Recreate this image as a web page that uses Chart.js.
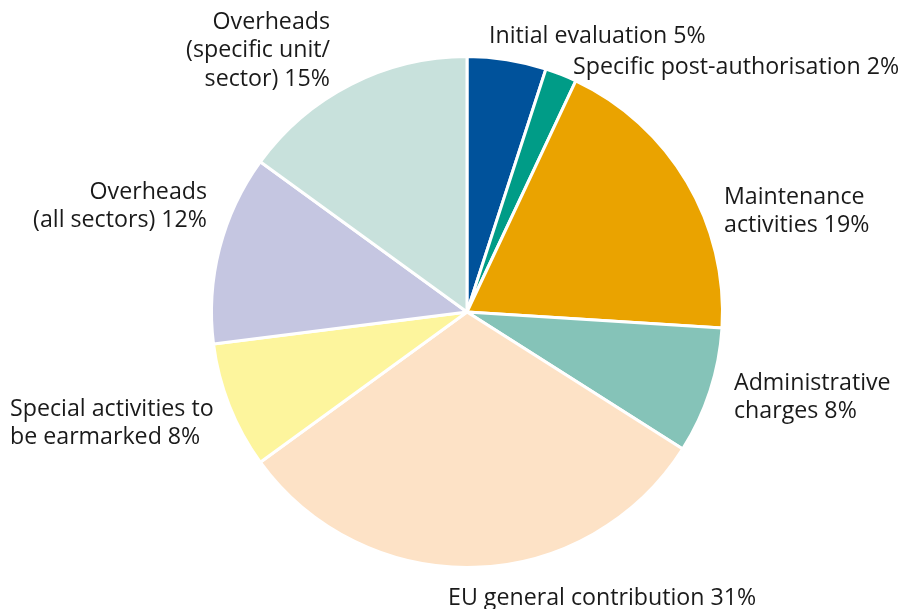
<!DOCTYPE html>
<html>
<head>
<meta charset="utf-8">
<script src="https://cdn.jsdelivr.net/npm/chart.js@4"></script>
<style>
  html, body { margin: 0; padding: 0; background: #fff; }
  #wrap { width: 902px; height: 609px; position: relative; }
</style>
</head>
<body>
<div id="wrap"><canvas id="pie"></canvas></div>
<script>
// slices, clockwise from 12 o'clock
const labels = [
  ['Initial evaluation 5%'],
  ['Specific post-authorisation 2%'],
  ['Maintenance', 'activities 19%'],
  ['Administrative', 'charges 8%'],
  ['EU general contribution 31%'],
  ['Special activities to', 'be earmarked 8%'],
  ['Overheads', '(all sectors) 12%'],
  ['Overheads', '(specific unit/', 'sector) 15%']
];
const shares = [5, 2, 19, 8, 31, 8, 12, 15];
const colors = ['#00529b', '#009c87', '#eaa300', '#85c3b8', '#fde2c6', '#fdf59d', '#c5c6e1', '#c8e1dc'];

// where each label sits: [x, y of first line, align]
const labelPos = [
  [489, 36, 'left'],
  [573, 67, 'left'],
  [724, 197, 'left'],
  [734, 383, 'left'],
  [448, 598, 'left'],
  [10, 409, 'left'],
  [207, 192, 'right'],
  [330, 22, 'right']
];

const outsideLabels = {
  id: 'outsideLabels',
  afterDraw(chart) {
    const ctx = chart.ctx;
    ctx.save();
    ctx.font = '23.2px "Open Sans", sans-serif';
    ctx.fillStyle = '#1a1a1a';
    ctx.textBaseline = 'middle';
    labels.forEach((lines, i) => {
      const [x, y, align] = labelPos[i];
      ctx.textAlign = align;
      lines.forEach((line, j) => {
        ctx.fillText(line, x, y + j * 28.5);
      });
    });
    ctx.restore();
  }
};

new Chart(document.getElementById('pie'), {
  type: 'pie',
  data: {
    labels: labels.map(l => l.join(' ')),
    datasets: [{
      data: shares,
      backgroundColor: colors,
      borderColor: '#ffffff',
      borderWidth: 3
    }]
  },
  options: {
    responsive: true,
    maintainAspectRatio: false,
    animation: false,
    layout: {
      padding: { top: 55, bottom: 40, left: 210, right: 178 }
    },
    plugins: {
      legend: { display: false },
      tooltip: { enabled: false }
    }
  },
  plugins: [outsideLabels]
});
</script>
</body>
</html>
